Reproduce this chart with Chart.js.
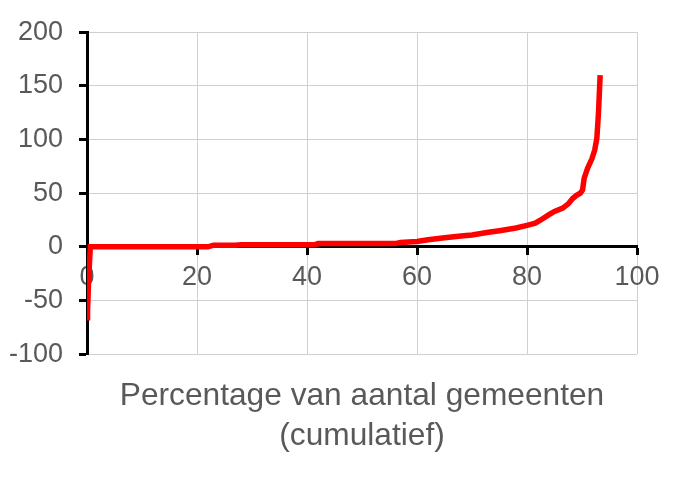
<!DOCTYPE html>
<html>
<head>
<meta charset="utf-8">
<script src="https://cdn.jsdelivr.net/npm/chart.js@4.4.0/dist/chart.umd.min.js"></script>
<style>
  html, body { margin: 0; padding: 0; background: #fff; }
  #wrap { width: 688px; height: 486px; }
</style>
</head>
<body>
<div id="wrap"><canvas id="curveChart" width="688" height="486"></canvas></div>
<script>
// cumulative percentage of municipalities (x) against value (y)
const pctGemeenten = [0, 0.1, 0.3, 0.6, 22, 23, 27, 28, 41.5, 42, 56, 57, 60, 62, 65, 68, 70, 73, 75, 78, 80, 81.5, 82.5, 84, 85, 86.5, 87.5, 88.3, 89, 89.7, 90.1, 90.4, 91, 91.8, 92.3, 92.7, 93, 93.3];
const waarden = [-66, -60, -30, 0, 0, 1.5, 1.5, 2, 2, 3, 3, 4, 5, 6.5, 8.5, 10, 11, 13.5, 15, 17.5, 20, 22, 25, 30, 33, 36, 40, 45, 48, 50, 53, 64, 73, 82, 90, 101, 125, 160];
const xTicks = [0, 20, 40, 60, 80, 100];
const yTicks = [-100, -50, 0, 50, 100, 150, 200];
const titleLines = ['Percentage van aantal gemeenten', '(cumulatief)'];

const points = pctGemeenten.map((x, i) => ({ x: x, y: waarden[i] }));
const textColor = '#595959';
const gridColor = '#d0d0d0';
const font = { family: '"Liberation Sans", Arial, sans-serif', size: 27 };

// center the bottom title under the plot area instead of the whole canvas
const centerTitle = {
    id: 'centerTitle',
    afterLayout(chart) {
        const t = chart.titleBlock;
        if (t) {
            t.left = chart.chartArea.left;
            t.right = chart.chartArea.right;
            t.width = t.right - t.left;
        }
    }
};

const ctx = document.getElementById('curveChart').getContext('2d');
const chart = new Chart(ctx, {
    type: 'scatter',
    data: {
        datasets: [{
            data: points,
            showLine: true,
            borderColor: '#ff0000',
            borderWidth: 5.5,
            pointRadius: 0,
            tension: 0
        }]
    },
    options: {
        responsive: false,
        animation: false,
        layout: {
            padding: { left: 8, right: 51, top: 14, bottom: 0 }
        },
        plugins: {
            legend: { display: false },
            tooltip: { enabled: false },
            title: {
                display: true,
                position: 'bottom',
                text: titleLines,
                color: textColor,
                font: { family: font.family, size: 31.7, weight: 'normal', lineHeight: 1.26 },
                padding: { top: 22, bottom: 30 }
            }
        },
        scales: {
            x: {
                type: 'linear',
                min: 0,
                max: 100,
                position: { y: 0 },
                afterBuildTicks: axis => { axis.ticks = xTicks.map(v => ({ value: v })); },
                ticks: { color: textColor, font: font, padding: 8 },
                grid: { color: gridColor, lineWidth: 1, tickColor: '#000', tickWidth: 3, tickLength: 7 },
                border: { color: '#000', width: 3 }
            },
            y: {
                type: 'linear',
                min: -100,
                max: 200,
                afterBuildTicks: axis => { axis.ticks = yTicks.map(v => ({ value: v })); },
                afterFit: axis => { axis.width = 79; },
                ticks: { color: textColor, font: font, padding: 16 },
                grid: { color: gridColor, lineWidth: 1, tickColor: '#000', tickWidth: 3, tickLength: 8 },
                border: { color: '#000', width: 3 }
            }
        }
    },
    plugins: [centerTitle]
});
</script>
</body>
</html>
